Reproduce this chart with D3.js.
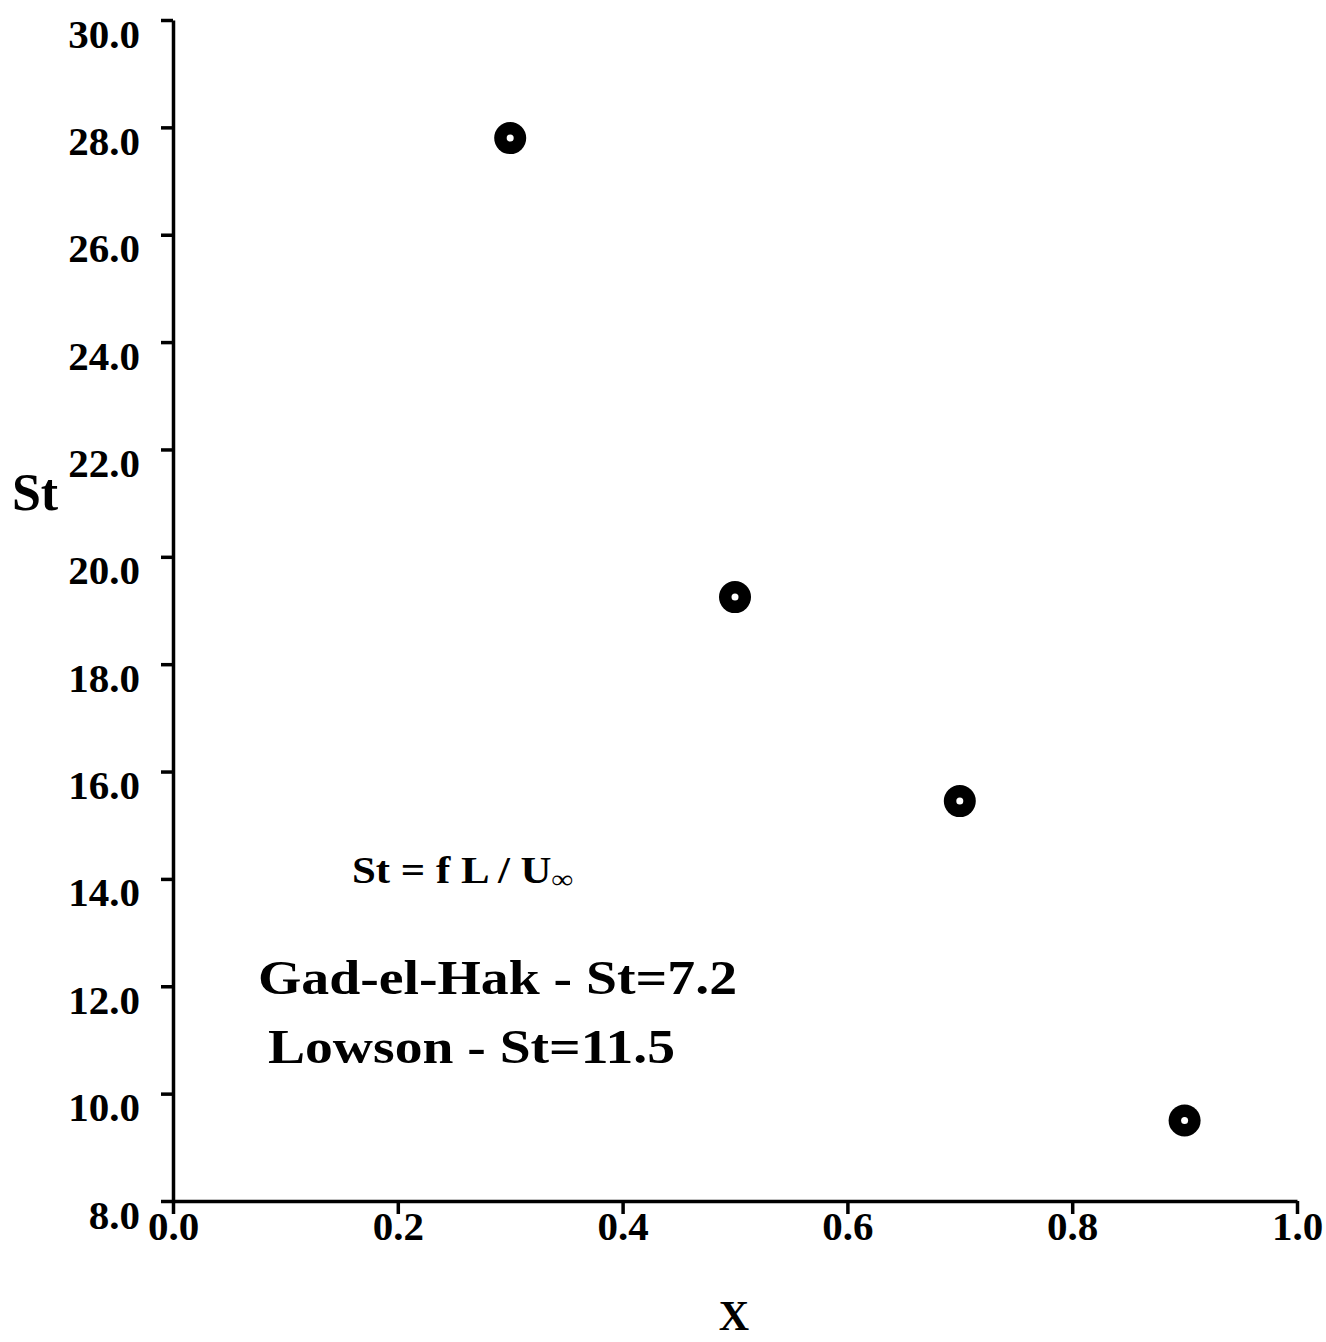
<!DOCTYPE html>
<html>
<head>
<meta charset="utf-8">
<script src="https://d3js.org/d3.v7.min.js"></script>
<style>
  body { margin: 0; background: #fff; }
  svg text { font-family: "Liberation Serif", "Times New Roman", serif; font-weight: bold; fill: #000; }
</style>
</head>
<body>
<svg id="chart" width="1326" height="1342"></svg>
<script>
// data
const xValues = [0.3, 0.5, 0.7, 0.9];
const stValues = [27.8, 19.25, 15.45, 9.5];
const xTicks = [0.0, 0.2, 0.4, 0.6, 0.8, 1.0];
const yTicks = [8, 10, 12, 14, 16, 18, 20, 22, 24, 26, 28, 30];
const notes = ["Gad-el-Hak - St=7.2", "Lowson - St=11.5"];

const svg = d3.select("#chart");

// plot area in pixels
const x = d3.scaleLinear().domain([0, 1]).range([173, 1297]);
const y = d3.scaleLinear().domain([8, 30]).range([1201, 20]);

// y axis, ticks on the left
const yAxis = svg.append("g")
    .attr("transform", `translate(${x(0)},0)`)
    .call(d3.axisLeft(y).tickValues(yTicks).tickFormat(d3.format(".1f")).tickSize(12).tickSizeOuter(0));

yAxis.selectAll("text")
    .attr("x", -33)
    .attr("dy", 27)
    .style("font-size", "41px");

// x axis, ticks pointing down
const xAxis = svg.append("g")
    .attr("transform", `translate(0,${y(8)})`)
    .call(d3.axisBottom(x).tickValues(xTicks).tickFormat(d3.format(".1f")).tickSize(13).tickSizeOuter(0));

xAxis.selectAll("text")
    .attr("y", 39)
    .attr("dy", 0)
    .style("font-size", "41px");

svg.selectAll(".domain, .tick line")
    .attr("stroke", "#000")
    .attr("stroke-width", 3.5);

// axis titles
svg.append("text")
    .attr("x", 35).attr("y", 510)
    .attr("text-anchor", "middle")
    .style("font-size", "52px")
    .text("St");

svg.append("text")
    .attr("x", 734).attr("y", 1330)
    .attr("text-anchor", "middle")
    .style("font-size", "42px")
    .text("X");

// formula
const formula = svg.append("text")
    .attr("x", 352).attr("y", 883)
    .attr("textLength", 221)
    .attr("lengthAdjust", "spacingAndGlyphs")
    .style("font-size", "37px");
formula.append("tspan").text("St = f L / U");
formula.append("tspan")
    .attr("dy", 5)
    .style("font-size", "26px")
    .text("∞");

// the two reference values
svg.append("text")
    .attr("x", 258).attr("y", 994)
    .attr("textLength", 479)
    .attr("lengthAdjust", "spacingAndGlyphs")
    .style("font-size", "48px")
    .text(notes[0]);

svg.append("text")
    .attr("x", 268).attr("y", 1063)
    .attr("textLength", 407)
    .attr("lengthAdjust", "spacingAndGlyphs")
    .style("font-size", "48px")
    .text(notes[1]);

// markers: filled dot with small white centre
const pts = xValues.map((v, i) => ({ x: v, st: stValues[i] }));

svg.selectAll("circle.outer").data(pts)
    .join("circle")
    .attr("class", "outer")
    .attr("cx", d => x(d.x))
    .attr("cy", d => y(d.st))
    .attr("r", 16)
    .attr("fill", "#000");

svg.selectAll("circle.inner").data(pts)
    .join("circle")
    .attr("class", "inner")
    .attr("cx", d => x(d.x))
    .attr("cy", d => y(d.st))
    .attr("r", 3.5)
    .attr("fill", "#fff");
</script>
</body>
</html>
